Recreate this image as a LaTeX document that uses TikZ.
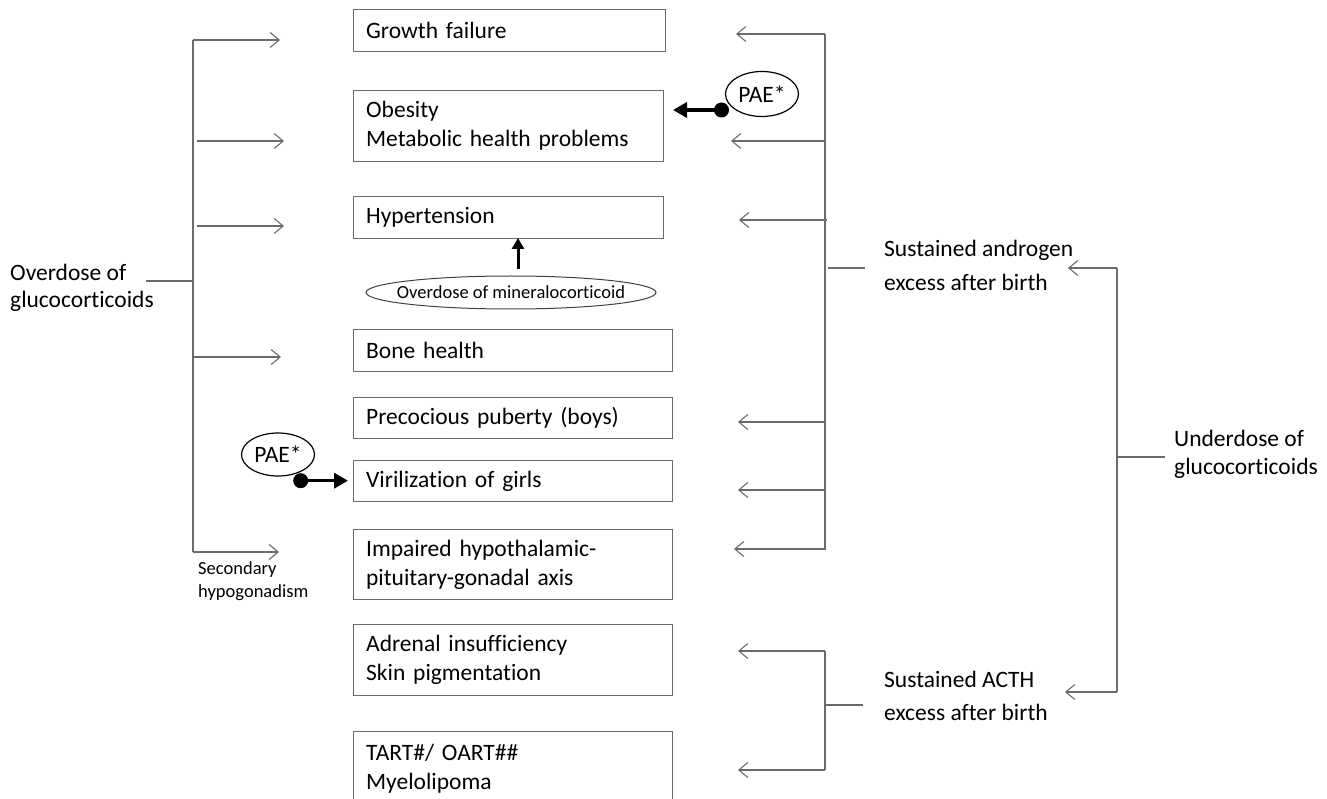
\documentclass[tikz,border=0pt]{standalone}
\usepackage{fontspec}
\setmainfont{Carlito}[Ligatures=NoCommon]
\usetikzlibrary{arrows.meta,shapes.geometric}
\definecolor{lg}{gray}{0.42}
\begin{document}
\begin{tikzpicture}[x=1pt,y=-1pt,
  box/.style={draw=lg, line width=1.3pt, inner xsep=12.5pt, inner ysep=0pt, align=left, anchor=north west, font=\fontsize{23.5}{29}\selectfont},
  conn/.style={draw=lg, line width=1.1pt, -{Straight Barb[length=9pt,width=15pt]}},
  plain/.style={draw=lg, line width=1.1pt},
  lbl/.style={inner sep=0pt, anchor=west, align=left},
  thk/.style={line width=3.5pt, -{Triangle[length=14pt,width=15pt]}},
  dot/.style={fill=black},
  oval/.style={draw=black, line width=1.2pt, ellipse, inner sep=0pt}
]
\useasboundingbox (0,0) rectangle (1327,799);

% boxes
\node[box, minimum width=312pt, minimum height=42pt, text width=287pt] (gf) at (353,9) {Growth failure};
\node[box, minimum width=310pt, minimum height=71pt, text width=285pt] (ob) at (353,90) {Obesity\\Metabolic health problems};
\node[box, minimum width=310pt, minimum height=42pt, text width=285pt] (hy) at (353,196) {Hypertension};
\node[box, minimum width=319pt, minimum height=42pt, text width=294pt] (bh) at (353,329) {Bone health};
\node[box, minimum width=319pt, minimum height=41pt, text width=294pt] (pp) at (353,397) {Precocious puberty (boys)};
\node[box, minimum width=319pt, minimum height=41pt, text width=294pt] (vg) at (353,460) {Virilization of girls};
\node[box, minimum width=319pt, minimum height=70pt, text width=294pt] (ih) at (353,529) {Impaired hypothalamic-\\pituitary-gonadal axis};
\node[box, minimum width=319pt, minimum height=71pt, text width=294pt] (ai) at (353,624) {Adrenal insufficiency\\Skin pigmentation};
\node[box, minimum width=319pt, minimum height=75pt, text width=294pt] (ta) at (353,731) {TART\#/ OART\#\#\\Myelolipoma};

% side labels
\node[lbl, font=\fontsize{23.5}{27}\selectfont] (over) at (10,288) {Overdose of\\glucocorticoids};
\node[lbl, font=\fontsize{18.5}{23}\selectfont] (sec) at (198,581.5) {Secondary\\hypogonadism};
\node[lbl, font=\fontsize{23.5}{34}\selectfont] (andr) at (884,265) {Sustained androgen\\excess after birth};
\node[lbl, font=\fontsize{23.5}{28}\selectfont] (und) at (1174,454) {Underdose of\\glucocorticoids};
\node[lbl, font=\fontsize{23.5}{33}\selectfont] (acth) at (884,696) {Sustained ACTH\\excess after birth};

% ovals
\node[oval, minimum width=73pt, minimum height=45pt, font=\fontsize{23.5}{28}\selectfont] (paeR) at (762,94) {PAE*};
\node[oval, minimum width=73pt, minimum height=43pt, font=\fontsize{23.5}{28}\selectfont] (paeL) at (278,454.5) {PAE*};
\node[oval, draw=black!75, line width=1pt, minimum width=290pt, minimum height=33pt] (min) at (511,292.5) {};
\node[inner sep=0pt, font=\fontsize{18.5}{22}\selectfont] (mintxt) at (min) {Overdose of mineralocorticoid};

% left bracket
\coordinate (LT) at (193,40);
\coordinate (LB) at (193,552);
\coordinate (LM) at (193,281);
\coordinate (LS) at (146,281);
\draw[plain] (LT) -- (LB);
\draw[plain] (LS) -- (LM);
\draw[conn] (LT) -- (280,40);
\draw[conn] (197,141) -- (284,141);
\draw[conn] (197,226) -- (284,226);
\draw[conn] (193,357) -- (281,357);
\draw[conn] (LB) -- (279,552);

% right bracket (androgen)
\coordinate (RT) at (825,34);
\coordinate (RB) at (825,550);
\draw[plain] (RT) -- (RB);
\draw[plain] (828,268) -- (865,268);
\draw[conn] (RT) -- (736,34);
\draw[conn] (825,141) -- (731,141);
\draw[conn] (827,220) -- (739,220);
\draw[conn] (825,422) -- (738,422);
\draw[conn] (825,490) -- (738,490);
\draw[conn] (825,549) -- (734,549);

% ACTH bracket
\coordinate (AT) at (825,651);
\coordinate (AB) at (825,770);
\draw[plain] (AT) -- (AB);
\draw[plain] (825,705) -- (863,705);
\draw[conn] (AT) -- (738,651);
\draw[conn] (AB) -- (738,770);

% underdose bracket
\coordinate (UT) at (1117,268);
\coordinate (UB) at (1117,692);
\draw[plain] (UT) -- (UB);
\draw[plain] (1117,457) -- (1165,457);
\draw[conn] (UT) -- (1068,268);
\draw[conn] (UB) -- (1065,692);

% thick arrows
\coordinate (dR) at (721.5,110);
\coordinate (tR) at (673,110);
\draw[thk] (dR) -- (tR);
\fill[dot] (dR) circle (7.5);
\coordinate (dL) at (300.7,480.7);
\coordinate (tL) at (348,480.7);
\draw[thk] (dL) -- (tL);
\fill[dot] (dL) circle (7.5);
\coordinate (mu1) at (518,269);
\coordinate (mu2) at (518,238);
\draw[line width=3pt, -{Triangle[length=11pt,width=12pt]}] (mu1) -- (mu2);
\end{tikzpicture}
\end{document}
